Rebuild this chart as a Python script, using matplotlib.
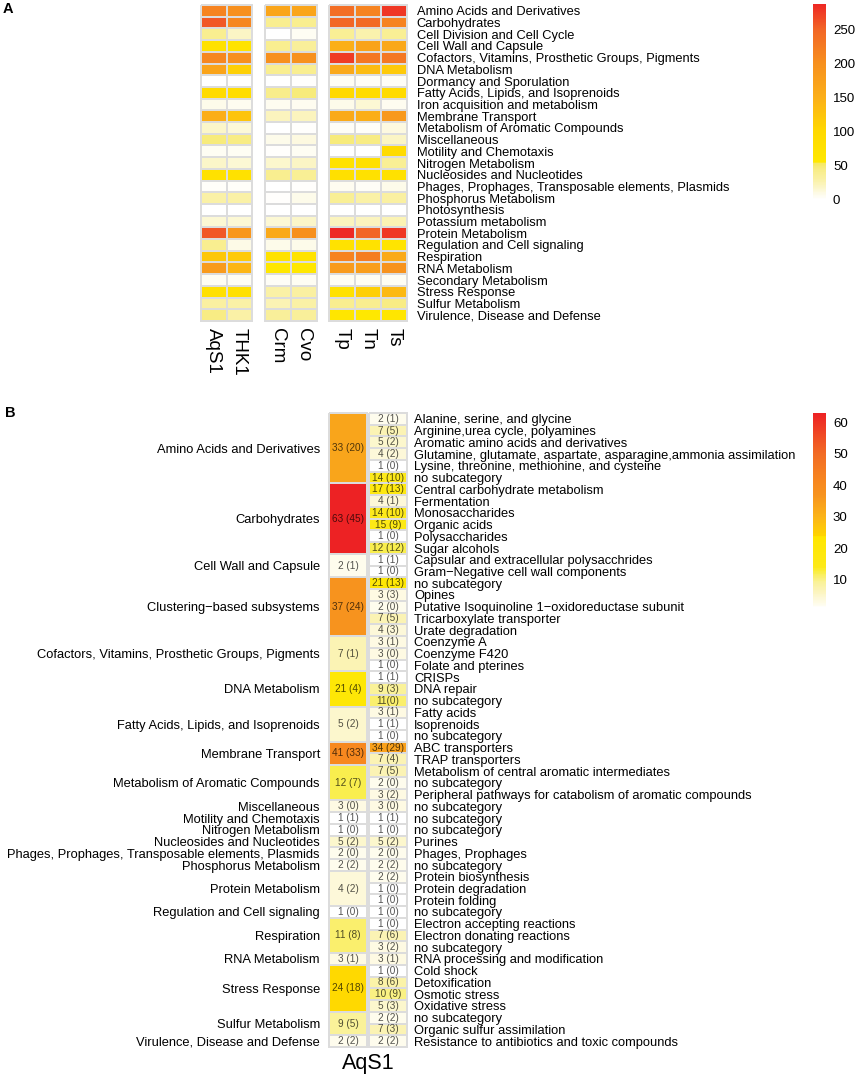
import numpy as np
import matplotlib
matplotlib.use('Agg')
import matplotlib.pyplot as plt
from matplotlib.colors import LinearSegmentedColormap, Normalize
from matplotlib.cm import ScalarMappable

plt.rcParams['font.family'] = ['Liberation Sans', 'DejaVu Sans']

# ---------------- Panel A data ----------------
functions_a = [
    "Amino Acids and Derivatives", "Carbohydrates", "Cell Division and Cell Cycle",
    "Cell Wall and Capsule", "Cofactors, Vitamins, Prosthetic Groups, Pigments",
    "DNA Metabolism", "Dormancy and Sporulation", "Fatty Acids, Lipids, and Isoprenoids",
    "Iron acquisition and metabolism", "Membrane Transport",
    "Metabolism of Aromatic Compounds", "Miscellaneous", "Motility and Chemotaxis",
    "Nitrogen Metabolism", "Nucleosides and Nucleotides",
    "Phages, Prophages, Transposable elements, Plasmids", "Phosphorus Metabolism",
    "Photosynthesis", "Potassium metabolism", "Protein Metabolism",
    "Regulation and Cell signaling", "Respiration", "RNA Metabolism",
    "Secondary Metabolism", "Stress Response", "Sulfur Metabolism",
    "Virulence, Disease and Defense"]

aqs1 = [215, 258, 40, 75, 210, 168, 1, 95, 8, 152, 18, 48, 5, 18, 75, 3, 30, 1, 15, 258, 40, 122, 182, 5, 78, 32, 45]
thk1 = [200, 210, 20, 70, 200, 110, 2, 88, 6, 125, 14, 45, 5, 15, 75, 3, 30, 1, 15, 188, 10, 118, 142, 5, 78, 30, 30]
crm  = [165, 40, 1, 40, 200, 40, 1, 42, 6, 22, 1, 8, 2, 17, 40, 1, 2, 1, 15, 160, 8, 72, 58, 4, 30, 25, 35]
cvo  = [165, 40, 5, 35, 198, 40, 2, 48, 6, 22, 2, 12, 5, 20, 37, 2, 8, 1, 18, 200, 8, 70, 58, 5, 32, 30, 35]
tp   = [240, 250, 38, 150, 275, 160, 5, 100, 8, 158, 4, 48, 0, 72, 78, 6, 38, 1, 22, 287, 72, 215, 182, 5, 75, 40, 62]
tn   = [215, 245, 28, 170, 228, 135, 4, 90, 15, 152, 3, 45, 1, 80, 75, 4, 30, 1, 22, 250, 72, 222, 178, 5, 112, 40, 55]
ts   = [278, 215, 38, 162, 228, 118, 4, 95, 6, 185, 12, 20, 95, 38, 75, 8, 32, 1, 25, 278, 68, 158, 195, 5, 138, 45, 62]

groups_a = [(["AqS1", "THK1"], [aqs1, thk1]),
            (["Crm", "Cvo"], [crm, cvo]),
            (["Tp", "Tn", "Ts"], [tp, tn, ts])]
ticks_a = [0, 50, 100, 150, 200, 250]

# ---------------- Panel B data ----------------
categories_b = [
    "Amino Acids and Derivatives", "Carbohydrates", "Cell Wall and Capsule",
    "Clustering\u2212based subsystems", "Cofactors, Vitamins, Prosthetic Groups, Pigments",
    "DNA Metabolism", "Fatty Acids, Lipids, and Isoprenoids", "Membrane Transport",
    "Metabolism of Aromatic Compounds", "Miscellaneous", "Motility and Chemotaxis",
    "Nitrogen Metabolism", "Nucleosides and Nucleotides",
    "Phages, Prophages, Transposable elements, Plasmids", "Phosphorus Metabolism",
    "Protein Metabolism", "Regulation and Cell signaling", "Respiration",
    "RNA Metabolism", "Stress Response", "Sulfur Metabolism",
    "Virulence, Disease and Defense"]
cat_total = [33, 63, 2, 37, 7, 21, 5, 41, 12, 3, 1, 1, 5, 2, 2, 4, 1, 11, 3, 24, 9, 2]
cat_paren = [20, 45, 1, 24, 1, 4, 2, 33, 7, 0, 1, 0, 2, 0, 2, 2, 0, 8, 1, 18, 5, 2]
cat_nsub  = [6, 6, 2, 5, 3, 3, 3, 2, 3, 1, 1, 1, 1, 1, 1, 3, 1, 3, 1, 4, 2, 1]

subcategories_b = [
    "Alanine, serine, and glycine", "Arginine,urea cycle, polyamines",
    "Aromatic amino acids and derivatives",
    "Glutamine, glutamate, aspartate, asparagine,ammonia assimilation",
    "Lysine, threonine, methionine, and cysteine", "no subcategory",
    "Central carbohydrate metabolism", "Fermentation", "Monosaccharides",
    "Organic acids", "Polysaccharides", "Sugar alcohols",
    "Capsular and extracellular polysacchrides", "Gram\u2212Negative cell wall components",
    "no subcategory", "Opines", "Putative Isoquinoline 1\u2212oxidoreductase subunit",
    "Tricarboxylate transporter", "Urate degradation",
    "Coenzyme A", "Coenzyme F420", "Folate and pterines",
    "CRISPs", "DNA repair", "no subcategory",
    "Fatty acids", "Isoprenoids", "no subcategory",
    "ABC transporters", "TRAP transporters",
    "Metabolism of central aromatic intermediates", "no subcategory",
    "Peripheral pathways for catabolism of aromatic compounds",
    "no subcategory", "no subcategory", "no subcategory", "Purines",
    "Phages, Prophages", "no subcategory",
    "Protein biosynthesis", "Protein degradation", "Protein folding",
    "no subcategory",
    "Electron accepting reactions", "Electron donating reactions", "no subcategory",
    "RNA processing and modification",
    "Cold shock", "Detoxification", "Osmotic stress", "Oxidative stress",
    "no subcategory", "Organic sulfur assimilation",
    "Resistance to antibiotics and toxic compounds"]
sub_total = [2, 7, 5, 4, 1, 14, 17, 4, 14, 15, 1, 12, 1, 1, 21, 3, 2, 7, 4,
             3, 3, 1, 1, 9, 11, 3, 1, 1, 34, 7, 7, 2, 3, 3, 1, 1, 5, 2, 2,
             2, 1, 1, 1, 1, 7, 3, 3, 1, 8, 10, 5, 2, 7, 2]
sub_paren = [1, 5, 2, 2, 0, 10, 13, 1, 10, 9, 0, 12, 1, 0, 13, 3, 0, 5, 3,
             1, 0, 0, 1, 3, 0, 1, 1, 0, 29, 4, 5, 0, 2, 0, 1, 0, 2, 0, 2,
             2, 0, 0, 0, 0, 6, 2, 1, 0, 6, 9, 3, 2, 3, 2]
sub_nospace = [24]  # "11(0)" printed without a space
ticks_b = [10, 20, 30, 40, 50, 60]

# ---------------- colour maps ----------------
vmax_a = max(max(c) for c in [aqs1, thk1, crm, cvo, tp, tn, ts])
norm_a = Normalize(0, vmax_a)
nodes_a = [(0, "#FFFFFF"), (10, "#FDFAE4"), (20, "#FBF5C2"), (30, "#FAF1A4"),
           (45, "#F8EC84"), (53, "#F6E964"), (54.5, "#FFE800"), (100, "#FFD900"),
           (150, "#FBAF18"), (200, "#F7901E"), (250, "#F26626"), (vmax_a, "#EE2824")]
cmap_a = LinearSegmentedColormap.from_list(
    "a", [(v / vmax_a, c) for v, c in nodes_a])

vmin_b, vmax_b = 1, 63
norm_b = Normalize(vmin_b, vmax_b)
nodes_b = [(1, "#FFFFFF"), (2, "#FEFCEC"), (4, "#FDF8D8"), (7, "#FBF3B2"),
           (9, "#FAF29A"), (11, "#FAEF6C"), (12, "#F9EE4C"), (14, "#FDE918"),
           (23.5, "#FFE600"), (24, "#FFD400"), (30, "#FBB418"), (37, "#F7931E"),
           (41, "#F7881F"), (50, "#F26C24"), (63, "#ED2224")]
cmap_b = LinearSegmentedColormap.from_list(
    "b", [((v - vmin_b) / (vmax_b - vmin_b), c) for v, c in nodes_b])

# ---------------- figure ----------------
W, H = 856, 1080
fig = plt.figure(figsize=(W / 100, H / 100), dpi=100)


def px_axes(x0, y0, x1, y1):
    return fig.add_axes([x0 / W, 1 - y1 / H, (x1 - x0) / W, (y1 - y0) / H])


def clean(ax):
    for s in ax.spines.values():
        s.set_visible(False)
    ax.tick_params(length=0)


EDGE = "#DCDCDC"
LABEL_FS = 9.25

# Panel A heatmaps
xr_a = [(201, 252), (265, 317), (329, 407)]
nrow = len(functions_a)
for gi, ((names, cols), (x0, x1)) in enumerate(zip(groups_a, xr_a)):
    ax = px_axes(x0, 5, x1, 321)
    M = np.array(cols).T
    mesh = ax.pcolormesh(np.arange(len(names) + 1), np.arange(nrow + 1), M,
                         cmap=cmap_a, norm=norm_a, edgecolors=EDGE, linewidth=1.2)
    mesh.set_clip_on(False)
    ax.set_xlim(0, len(names))
    ax.set_ylim(nrow, 0)
    clean(ax)
    ax.set_xticks(np.arange(len(names)) + 0.5)
    ax.set_xticklabels(names, rotation=270, ha="center", va="top", fontsize=13.5)
    ax.tick_params(axis="x", pad=5)
    if gi == 2:
        ax.yaxis.tick_right()
        ax.set_yticks(np.arange(nrow) + 0.5)
        ax.set_yticklabels(functions_a, fontsize=LABEL_FS)
        ax.tick_params(axis="y", pad=7, length=0)
    else:
        ax.set_yticks([])

cax_a = px_axes(813, 4, 826, 200)
cb_a = fig.colorbar(ScalarMappable(norm=norm_a, cmap=cmap_a), cax=cax_a, ticks=ticks_a)
cb_a.outline.set_visible(False)
cax_a.tick_params(length=0, labelsize=9.5, pad=5)

# Panel B heatmaps
nsub = len(subcategories_b)
edges = np.concatenate([[0], np.cumsum(cat_nsub)])
centers = (edges[:-1] + edges[1:]) / 2
txt_kw = dict(ha="center", va="center", fontsize=7.2, color="black", alpha=0.68)

axl = px_axes(329, 413, 367, 1047)
mesh = axl.pcolormesh([0, 1], edges, np.array(cat_total)[:, None], cmap=cmap_b,
                      norm=norm_b, edgecolors=EDGE, linewidth=1.2)
mesh.set_clip_on(False)
axl.set_xlim(0, 1)
axl.set_ylim(nsub, 0)
clean(axl)
axl.set_xticks([])
axl.set_yticks(centers)
axl.set_yticklabels(categories_b, fontsize=LABEL_FS)
axl.tick_params(axis="y", pad=6.5, length=0)
for c, t, p in zip(centers, cat_total, cat_paren):
    axl.text(0.5, c, f"{t} ({p})", **txt_kw)

axr = px_axes(369, 413, 407, 1047)
mesh = axr.pcolormesh([0, 1], np.arange(nsub + 1), np.array(sub_total)[:, None],
                      cmap=cmap_b, norm=norm_b, edgecolors=EDGE, linewidth=1.2)
mesh.set_clip_on(False)
axr.set_xlim(0, 1)
axr.set_ylim(nsub, 0)
clean(axr)
axr.set_xticks([])
axr.yaxis.tick_right()
axr.set_yticks(np.arange(nsub) + 0.5)
axr.set_yticklabels(subcategories_b, fontsize=LABEL_FS)
axr.tick_params(axis="y", pad=5, length=0)
for i, (t, p) in enumerate(zip(sub_total, sub_paren)):
    s = f"{t}({p})" if i in sub_nospace else f"{t} ({p})"
    axr.text(0.5, i + 0.5, s, **txt_kw)

fig.text(368 / W, 1 - 1063 / H, "AqS1", ha="center", va="center", fontsize=15.5)

cax_b = px_axes(813, 413, 826, 608)
cb_b = fig.colorbar(ScalarMappable(norm=norm_b, cmap=cmap_b), cax=cax_b, ticks=ticks_b)
cb_b.outline.set_visible(False)
cax_b.tick_params(length=0, labelsize=9.5, pad=5)

# panel letters
fig.text(3 / W, 1 - 9 / H, "A", ha="left", va="center", fontsize=10.5, fontweight="bold")
fig.text(5 / W, 1 - 413 / H, "B", ha="left", va="center", fontsize=10.5, fontweight="bold")

fig.savefig("out.png", dpi=100)
